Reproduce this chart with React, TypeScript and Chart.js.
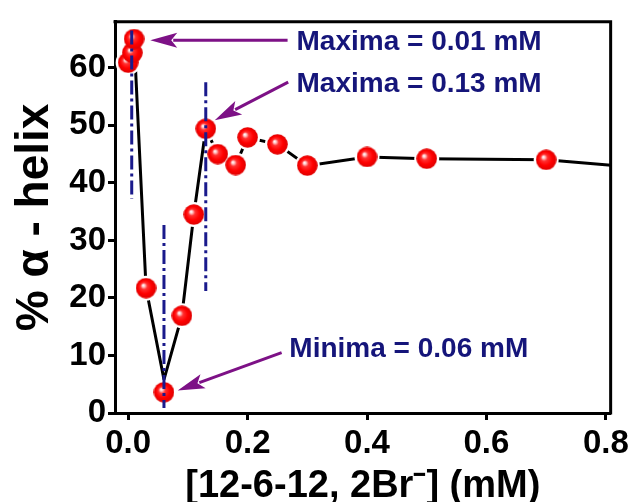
import React, { useEffect, useRef } from "react";
import { Chart, registerables } from "chart.js";

Chart.register(...registerables);

// ---- data ----
const concentrations = [0, 0.007, 0.01, 0.03, 0.06, 0.09, 0.11, 0.13, 0.15, 0.18, 0.2, 0.25, 0.3, 0.4, 0.5, 0.7];
const helixPercent = [60.9, 62.6, 65.0, 21.7, 3.6, 16.9, 34.5, 49.4, 45.0, 43.1, 47.9, 46.7, 43.0, 44.5, 44.2, 44.0];
// connecting line (drawn slightly offset near the minimum, continues past the right edge)
const lineConcentrations = [0, 0.007, 0.01, 0.03, 0.06, 0.09, 0.11, 0.13, 0.15, 0.18, 0.2, 0.25, 0.3, 0.4, 0.5, 0.7, 1.0];
const lineHelix = [60.9, 62.6, 65.0, 21.7, 5.8, 16.9, 34.5, 49.4, 45.0, 43.1, 47.9, 46.7, 43.0, 44.5, 44.2, 44.0, 41.4];

const xTicks = [0, 0.2, 0.4, 0.6, 0.8];
const yTicks = [0, 10, 20, 30, 40, 50, 60];

const xTitle = "[12-6-12, 2Br\u207B] (mM)";
const yTitle = "% \u03B1 - helix";

// vertical dash-dot guides: [x, yFrom, yTo]
const guideX = [0.006, 0.06, 0.13];
const guideYFrom = [66.5, 32.7, 57.5];
const guideYTo = [37.2, 0.85, 21.2];

// arrows: from (x,y) to tip (x,y)
const arrowFromX = [0.267, 0.268, 0.257];
const arrowFromY = [64.8, 57.5, 10.5];
const arrowToX = [0.037, 0.145, 0.083];
const arrowToY = [64.8, 50.9, 3.9];

// annotation labels
const noteText = ["Maxima = 0.01 mM", "Maxima = 0.13 mM", "Minima = 0.06 mM"];
const noteX = [0.282, 0.282, 0.27];
const noteY = [64.5, 57.2, 11.0];

const FONT = "'Liberation Sans', Arial, sans-serif";

function makeSphere(): HTMLCanvasElement {
  const c = document.createElement("canvas");
  c.width = 21;
  c.height = 21;
  const g = c.getContext("2d")!;
  const grad = g.createRadialGradient(7.5, 7.5, 0, 10.5, 10.5, 10.5);
  grad.addColorStop(0, "#ffffff");
  grad.addColorStop(0.12, "#ffd6d6");
  grad.addColorStop(0.32, "#ff3030");
  grad.addColorStop(0.65, "#ff0000");
  grad.addColorStop(1, "#dc0000");
  g.fillStyle = grad;
  g.beginPath();
  g.arc(10.5, 10.5, 10.3, 0, Math.PI * 2);
  g.fill();
  return c;
}

const annotationPlugin = {
  id: "annotations",
  afterDatasetsDraw(chart: any) {
    const { ctx, chartArea, scales } = chart;
    const { left, top, right, bottom } = chartArea;
    const x = scales.x;
    const y = scales.y;
    ctx.save();

    // dash-dot guides
    ctx.strokeStyle = "#1a1a8c";
    ctx.lineWidth = 3;
    ctx.setLineDash([14, 4, 3, 4]);
    for (let i = 0; i < guideX.length; i++) {
      const px = x.getPixelForValue(guideX[i]);
      ctx.beginPath();
      ctx.moveTo(px, y.getPixelForValue(guideYFrom[i]));
      ctx.lineTo(px, y.getPixelForValue(guideYTo[i]));
      ctx.stroke();
    }
    ctx.setLineDash([]);

    // arrows
    const purple = "#7d1186";
    ctx.strokeStyle = purple;
    ctx.fillStyle = purple;
    ctx.lineWidth = 3;
    for (let i = 0; i < arrowFromX.length; i++) {
      const x0 = x.getPixelForValue(arrowFromX[i]);
      const y0 = y.getPixelForValue(arrowFromY[i]);
      const x1 = x.getPixelForValue(arrowToX[i]);
      const y1 = y.getPixelForValue(arrowToY[i]);
      const ang = Math.atan2(y1 - y0, x1 - x0);
      const headLen = 27;
      const headHalf = 7.5;
      const bx = x1 - headLen * Math.cos(ang);
      const by = y1 - headLen * Math.sin(ang);
      ctx.beginPath();
      ctx.moveTo(x0, y0);
      ctx.lineTo(bx + 4 * Math.cos(ang), by + 4 * Math.sin(ang));
      ctx.stroke();
      const nx = -Math.sin(ang);
      const ny = Math.cos(ang);
      ctx.beginPath();
      ctx.moveTo(x1, y1);
      ctx.lineTo(bx + nx * headHalf, by + ny * headHalf);
      ctx.lineTo(bx + 6 * Math.cos(ang), by + 6 * Math.sin(ang));
      ctx.lineTo(bx - nx * headHalf, by - ny * headHalf);
      ctx.closePath();
      ctx.fill();
    }

    // labels
    ctx.fillStyle = "#15157a";
    ctx.font = `bold 28px ${FONT}`;
    ctx.textAlign = "left";
    ctx.textBaseline = "middle";
    for (let i = 0; i < noteText.length; i++) {
      ctx.fillText(noteText[i], x.getPixelForValue(noteX[i]), y.getPixelForValue(noteY[i]));
    }

    // frame top & right
    ctx.strokeStyle = "#000";
    ctx.lineWidth = 3;
    ctx.beginPath();
    ctx.moveTo(left - 1.5, top);
    ctx.lineTo(right, top);
    ctx.lineTo(right, bottom + 1.5);
    ctx.stroke();
    ctx.restore();
  },
};

export default function App() {
  const ref = useRef<HTMLCanvasElement | null>(null);

  useEffect(() => {
    if (!ref.current) return;
    document.body.style.margin = "0";
    const sphere = makeSphere();
    const pts = concentrations.map((c, i) => ({ x: c, y: helixPercent[i] }));
    const linePts = lineConcentrations.map((c, i) => ({ x: c, y: lineHelix[i] }));

    const chart = new Chart(ref.current, {
      type: "scatter",
      data: {
        datasets: [
          {
            data: pts,
            showLine: false,
            pointStyle: sphere as any,
            pointRadius: 10,
            order: 0,
          },
          {
            data: pts,
            showLine: false,
            pointRadius: 12.5,
            pointBackgroundColor: "#ffffff",
            pointBorderWidth: 0,
            order: 1,
          },
          {
            data: linePts,
            showLine: true,
            borderColor: "#000",
            borderWidth: 3,
            pointRadius: 0,
            tension: 0,
            order: 2,
          },
        ],
      },
      options: {
        animation: false,
        responsive: false,
        events: [],
        layout: { padding: { top: 11, right: 20, left: 0, bottom: 0 } },
        plugins: {
          legend: { display: false },
          tooltip: { enabled: false },
        },
        scales: {
          x: {
            type: "linear",
            position: "bottom",
            min: -0.022,
            max: 0.808,
            afterBuildTicks: (s: any) => {
              s.ticks = xTicks.map((v) => ({ value: v }));
            },
            afterFit: (s: any) => {
              s.height = 89;
            },
            ticks: {
              callback: (v: any) => Number(v).toFixed(1),
              font: { family: FONT, size: 33, weight: "bold" },
              color: "#000",
              padding: 4,
              maxRotation: 0,
              autoSkip: false,
            },
            grid: {
              drawOnChartArea: false,
              drawTicks: true,
              tickLength: 7,
              tickWidth: 3,
              tickColor: "#000",
            },
            border: { display: true, width: 3, color: "#000" },
            title: {
              display: true,
              text: xTitle,
              color: "#000",
              font: { family: FONT, size: 38, weight: "bold", lineHeight: 0.82 },
              padding: { top: 0, bottom: 0 },
            },
          },
          y: {
            type: "linear",
            min: 0,
            max: 68,
            afterBuildTicks: (s: any) => {
              s.ticks = yTicks.map((v) => ({ value: v }));
            },
            afterFit: (s: any) => {
              s.width = 115;
            },
            ticks: {
              font: { family: FONT, size: 33, weight: "bold" },
              color: "#000",
              padding: 2,
            },
            grid: {
              drawOnChartArea: false,
              drawTicks: true,
              tickLength: 7,
              tickWidth: 3,
              tickColor: "#000",
            },
            border: { display: true, width: 3, color: "#000" },
            title: {
              display: true,
              text: yTitle,
              color: "#000",
              font: { family: FONT, size: 46, weight: "bold", lineHeight: 1 },
              padding: { top: 12, bottom: 0 },
            },
          },
        },
      },
      plugins: [annotationPlugin],
    });
    return () => chart.destroy();
  }, []);

  return (
    <div style={{ position: "fixed", left: 0, top: 0, width: 633, height: 502, background: "#fff" }}>
      <canvas ref={ref} width={633} height={502} style={{ width: 633, height: 502 }} />
    </div>
  );
}
